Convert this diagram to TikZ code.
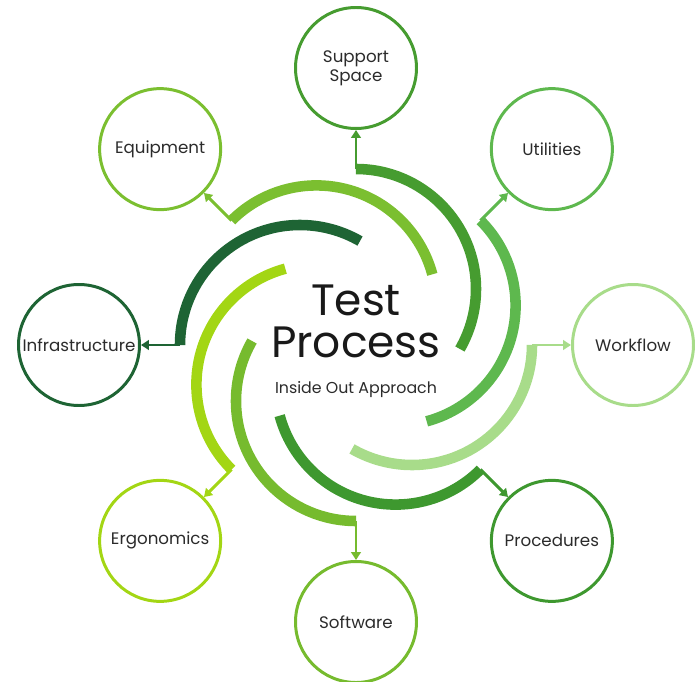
\documentclass[tikz,border=0pt]{standalone}
\usepackage{fontspec}
\setmainfont{Poppins}
\usepackage{tikz}
\usetikzlibrary{arrows.meta}

\definecolor{csup}{HTML}{469C30}
\definecolor{cutil}{HTML}{5EB84E}
\definecolor{cwork}{HTML}{A8DC8A}
\definecolor{cproc}{HTML}{3E982F}
\definecolor{csoft}{HTML}{76BB2E}
\definecolor{cergo}{HTML}{A3D614}
\definecolor{cinfra}{HTML}{1E6434}
\definecolor{cequip}{HTML}{7BBF30}
\definecolor{ctext}{HTML}{2B2B2B}

\begin{document}
\begin{tikzpicture}[
  bubble/.style={circle, draw=#1, line width=1.7pt, minimum size=2.42cm,
    inner sep=0pt, align=center, text=ctext,
    font=\fontsize{9.5}{11}\selectfont},
  band/.style={draw=#1, line width=6pt},
  link/.style={draw=#1, line width=1.7pt, -{Triangle[length=4.5pt,width=5.5pt]}},
  title/.style={anchor=base, text=black!90, font=\fontsize{25}{24}\selectfont}
]

\useasboundingbox (-7.12,-6.72) rectangle (6.88,6.9);

\node[bubble=csup] (sup) at (90:5.54) {Support\\Space};

\node[bubble=cutil] (util) at (45:5.54) {Utilities};

\node[bubble=cwork] (work) at (0:5.54) {Workflow};

\node[bubble=cproc] (proc) at (-45:5.54) {Procedures};

\node[bubble=csoft] (soft) at (-90:5.54) {Software};

\node[bubble=cergo] (ergo) at (-135:5.54) {Ergonomics};

\node[bubble=cinfra] (infra) at (180:5.54) {Infrastructure};

\node[bubble=cequip] (equip) at (135:5.54) {Equipment};

\node[title] (test) at (0,0.6) {Test};
\node[title] (process) at (0,-0.24) {Process};
\node[anchor=base, text=ctext, font=\fontsize{9}{10}\selectfont] (tag) at (0,-0.96) {Inside Out Approach};

\coordinate (sup2) at (90:3.52);
\coordinate (util2) at (45:3.52);
\coordinate (work2) at (0:3.52);
\coordinate (proc2) at (-45:3.52);
\coordinate (soft2) at (-90:3.52);
\coordinate (ergo2) at (-135:3.52);
\coordinate (infra2) at (180:3.52);
\coordinate (equip2) at (135:3.52);

\draw[band=csup] (sup2) arc[start angle=90, end angle=-30, radius=2.4];
\draw[band=cutil] (util2) arc[start angle=45, end angle=-75, radius=2.4];
\draw[band=cwork] (work2) arc[start angle=0, end angle=-120, radius=2.4];
\draw[band=cproc] (proc2) arc[start angle=-45, end angle=-165, radius=2.4];
\draw[band=csoft] (soft2) arc[start angle=-90, end angle=-210, radius=2.4];
\draw[band=cergo] (ergo2) arc[start angle=-135, end angle=-255, radius=2.4];
\draw[band=cinfra] (infra2) arc[start angle=180, end angle=60, radius=2.4];
\draw[band=cequip] (equip2) arc[start angle=135, end angle=15, radius=2.4];

\draw[link=csup] (sup2) -- (sup);
\draw[link=cutil] (util2) -- (util);
\draw[link=cwork] (work2) -- (work);
\draw[link=cproc] (proc2) -- (proc);
\draw[link=csoft] (soft2) -- (soft);
\draw[link=cergo] (ergo2) -- (ergo);
\draw[link=cinfra] (infra2) -- (infra);
\draw[link=cequip] (equip2) -- (equip);

\end{tikzpicture}
\end{document}
